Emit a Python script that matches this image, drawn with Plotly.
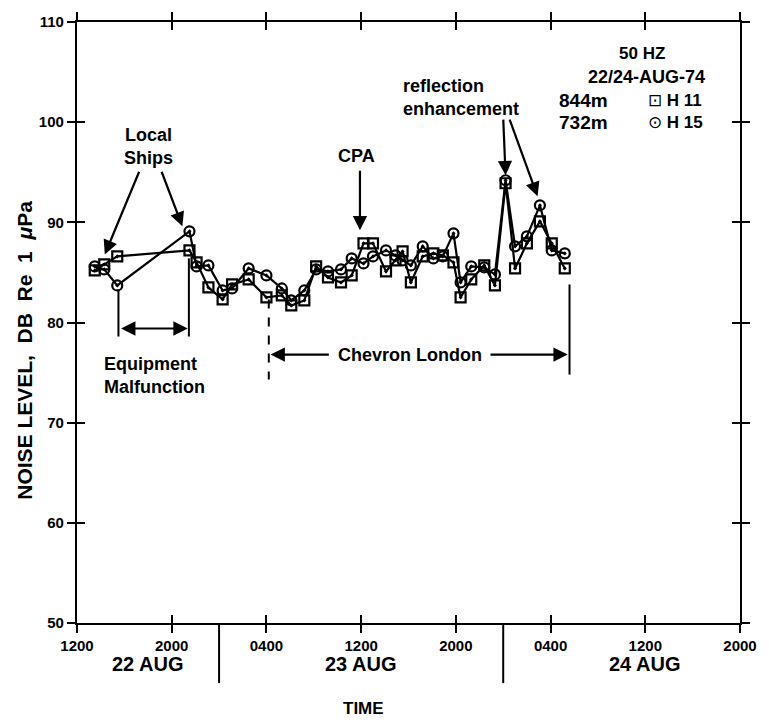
import plotly.graph_objects as go

# ---- data (hours after 1200, 22 AUG) ----
hours = [1.5, 2.3, 3.4, 9.5, 10.1, 11.1, 12.3, 13.1, 14.5, 16.0, 17.3, 18.1, 19.2,
         20.2, 21.2, 22.3, 23.2, 24.2, 25.0, 26.1, 26.9, 27.5, 28.2, 29.2, 30.1,
         30.9, 31.8, 32.4, 33.3, 34.4, 35.3, 36.2, 37.0, 38.0, 39.1, 40.1, 41.2]
h11 = [85.2, 85.8, 86.6, 87.2, 86.0, 83.5, 82.3, 83.8, 84.3, 82.5, 82.7, 81.7, 82.2,
       85.6, 84.5, 84.0, 84.7, 87.9, 87.9, 85.1, 86.2, 87.1, 84.0, 86.6, 86.9,
       86.7, 86.0, 82.5, 84.3, 85.7, 83.7, 93.9, 85.4, 87.9, 90.1, 87.9, 85.4]
h15 = [85.6, 85.3, 83.7, 89.1, 85.6, 85.7, 83.2, 83.4, 85.4, 84.7, 83.4, 82.2, 83.2,
       85.3, 85.1, 85.3, 86.4, 85.9, 86.6, 87.2, 86.7, 86.2, 85.7, 87.6, 86.4,
       86.6, 88.9, 84.0, 85.6, 85.5, 84.8, 94.2, 87.6, 88.6, 91.7, 87.2, 86.9]

tick_hours = [0, 8, 16, 24, 32, 40, 48, 56]
tick_labels = ["1200", "2000", "0400", "1200", "2000", "0400", "1200", "2000"]
y_ticks = [50, 60, 70, 80, 90, 100, 110]
day_labels = ["22 AUG", "23 AUG", "24 AUG"]
day_centers = [6, 24, 48]
day_breaks = [12, 36]

FONT = "Liberation Sans, Arial, sans-serif"

fig = go.Figure()
fig.add_trace(go.Scatter(
    x=hours, y=h15, mode="lines+markers", name="H 15",
    line=dict(color="black", width=2.2),
    marker=dict(symbol="circle-open-dot", size=10, color="black", line=dict(width=2.2, color="black"))))
fig.add_trace(go.Scatter(
    x=hours, y=h11, mode="lines+markers", name="H 11",
    line=dict(color="black", width=2.2),
    marker=dict(symbol="square-open-dot", size=10, color="black", line=dict(width=2.2, color="black"))))
fig.add_trace(go.Scatter(x=[None], y=[None], xaxis="x2", yaxis="y2",
                         showlegend=False, hoverinfo="skip"))

axis_common = dict(showgrid=False, zeroline=False, linecolor="black", linewidth=2.2,
                   tickcolor="black", tickwidth=2.2, ticklen=8)

fig.update_layout(
    width=769, height=724,
    margin=dict(l=77, r=25, t=17, b=101),
    paper_bgcolor="white", plot_bgcolor="white",
    showlegend=False,
    xaxis=dict(range=[0, 56], tickvals=tick_hours, ticktext=["<b>%s</b>" % t for t in tick_labels],
               ticks="outside", mirror="ticks", showline=True,
               tickfont=dict(family=FONT, size=15, color="black"), **axis_common),
    yaxis=dict(range=[50, 110], tickvals=y_ticks, ticktext=["<b>%d</b>" % v for v in y_ticks],
               ticks="outside", mirror="ticks", showline=True,
               tickfont=dict(family=FONT, size=15, color="black"), **axis_common),
    xaxis2=dict(range=[0, 56], tickvals=tick_hours, overlaying="x", anchor="y",
                ticks="inside", mirror="ticks", showline=False, showticklabels=False,
                **axis_common),
    yaxis2=dict(range=[50, 110], tickvals=y_ticks, overlaying="y", anchor="x",
                ticks="inside", mirror="ticks", showline=False, showticklabels=False,
                **axis_common),
)

anns = []
def txt(x, y, text, size=18, xanchor="center", align="center", family=FONT, **kw):
    anns.append(dict(x=x, y=y, xref="x", yref="y", text=text, showarrow=False,
                     xanchor=xanchor, align=align,
                     font=dict(family=family, size=size, color="black"), **kw))

def arrow(x0, y0, x1, y1, both=False):
    anns.append(dict(x=x1, y=y1, ax=x0, ay=y0, xref="x", yref="y", axref="x", ayref="y",
                     text="", showarrow=True, arrowhead=2, arrowsize=1.3, arrowwidth=2.2,
                     arrowcolor="black", startarrowhead=2, startarrowsize=1.3,
                     arrowside="end+start" if both else "end"))

# annotations
txt(6.0, 97.6, "<b>Local<br>Ships</b>")
arrow(5.3, 95.2, 2.35, 86.8)
arrow(7.1, 95.2, 8.9, 89.6)
txt(23.6, 96.6, "<b>CPA</b>")
arrow(23.9, 95.3, 23.9, 89.2)
txt(27.4, 102.5, "<b>reflection<br>enhancement</b>", xanchor="left", align="left")
arrow(36.0, 100.4, 36.2, 94.7)
arrow(36.5, 100.4, 38.9, 92.6)
txt(2.1, 74.7, "<b>Equipment<br>Malfunction</b>", xanchor="left", align="left")
arrow(3.6, 79.4, 9.35, 79.4, both=True)
txt(28.1, 76.8, "<b>Chevron London</b>")
arrow(21.4, 76.8, 16.35, 76.8)
arrow(34.8, 76.8, 41.45, 76.8)

# legend block
txt(47.7, 106.9, "<b>50 HZ</b>", size=17)
txt(48.1, 104.5, "<b>22/24-AUG-74</b>", size=18)
txt(45.0, 102.2, "<b>844m</b>", size=19, xanchor="right")
txt(45.0, 100.0, "<b>732m</b>", size=19, xanchor="right")
txt(48.1, 102.2, "⊡ <b>H 11</b>", size=17, xanchor="left")
txt(48.1, 100.0, "⊙ <b>H 15</b>", size=17, xanchor="left")

# day labels, TIME, y title
for c, lab in zip(day_centers, day_labels):
    anns.append(dict(x=c, y=-0.069, xref="x", yref="paper", text="<b>%s</b>" % lab, showarrow=False,
                     yanchor="middle", font=dict(family=FONT, size=20, color="black")))
anns.append(dict(x=24.2, y=-0.143, xref="x", yref="paper", text="<b>TIME</b>", showarrow=False,
                 yanchor="middle", font=dict(family=FONT, size=17, color="black")))
anns.append(dict(x=-0.079, y=0.454, xref="paper", yref="paper",
                 text="<b>NOISE LEVEL,&nbsp; DB&nbsp; Re&nbsp; 1&nbsp; <i>μ</i>Pa</b>", showarrow=False,
                 textangle=-90, xanchor="center", yanchor="middle",
                 font=dict(family=FONT, size=21, color="black")))
fig.update_layout(annotations=anns)

shapes = []
def vline(x, y0, y1, dash="solid"):
    shapes.append(dict(type="line", xref="x", yref="y", x0=x, x1=x, y0=y0, y1=y1,
                       line=dict(color="black", width=2, dash=dash)))
vline(3.5, 83.2, 78.6)
vline(9.45, 86.4, 78.6)
vline(16.2, 82.3, 74.3, dash="dash")
vline(41.6, 83.8, 74.8)
for b in day_breaks:
    shapes.append(dict(type="line", xref="x", yref="paper", x0=b, x1=b, y0=0, y1=-0.1,
                       line=dict(color="black", width=2)))
fig.update_layout(shapes=shapes)

fig.write_html("out.html")
